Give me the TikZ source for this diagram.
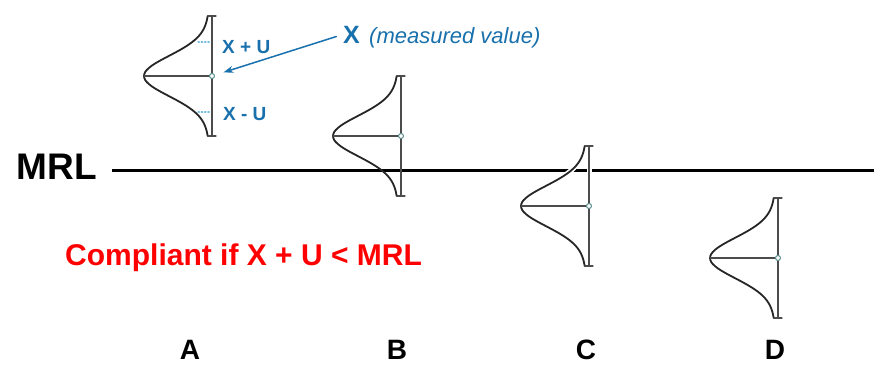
\documentclass[tikz,border=0pt]{standalone}
\usepackage{fontspec}
\setmainfont{Liberation Sans}
\usetikzlibrary{arrows.meta}
\definecolor{valblue}{RGB}{24,112,172}
\definecolor{dotblue}{RGB}{120,190,225}
\definecolor{meangray}{RGB}{90,140,140}
\tikzset{
    bell/.style={line width=1.8pt, black!85},
    axisline/.style={line width=1.1pt, black!70},
    halo/.style={preaction={draw=white, line width=5pt}},
    caselbl/.style={font=\bfseries\fontsize{28}{28}\selectfont, inner sep=0pt, anchor=base},
    bluetxt/.style={valblue, inner sep=0pt, anchor=base west},
}
\begin{document}
\begin{tikzpicture}[x=1pt, y=-1pt, >={Stealth[length=10pt, width=7pt]}, line join=round, line cap=round]
    \useasboundingbox (0,0) rectangle (874,365);
    \node[anchor=east, inner sep=0pt, font=\bfseries\fontsize{37}{37}\selectfont] (mrl) at (97,167) {MRL};
    \coordinate (mrlstart) at (112,170);
    \coordinate (mrlend) at (874,170);
    \draw[line width=3pt, line cap=butt] (mrlstart) -- (mrlend);
    \foreach \id/\xv/\m/\lx/\opt in {
        A/212/76/190/, 
        B/401/136/397/,
        C/589/206/586/halo,
        D/778/258/775/%
    } {
        \coordinate (\id-mean) at (\xv,\m);
        \coordinate (\id-top) at (\xv,\m-60);
        \coordinate (\id-bot) at (\xv,\m+60);
        \coordinate (\id-peak) at (\xv-68,\m);
        \draw[bell, \opt] plot[domain=-60:60, samples=61, smooth]
            ({\xv - 62*exp(-(\x*\x)/800) - 6*exp(-(\x*\x)/7200)}, {\m+\x});
        \draw[axisline, \opt] (\id-top) -- (\id-bot);
        \draw[axisline] ([xshift=-4pt]\id-top) -- ([xshift=4pt]\id-top);
        \draw[axisline] ([xshift=-4pt]\id-bot) -- ([xshift=4pt]\id-bot);
        \draw[axisline] (\id-peak) -- (\id-mean);
        \node[circle, draw=meangray, fill=white, line width=1pt, inner sep=0pt, minimum size=5pt] (\id-dot) at (\id-mean) {};
        \node[caselbl] (\id-lbl) at (\lx,359) {\id};
    }
    \draw[dotblue, dotted, line width=1.3pt] (198,42) -- (210,42);
    \draw[dotblue, dotted, line width=1.3pt] (198,112) -- (210,112);
    \node[bluetxt, font=\bfseries\fontsize{19}{19}\selectfont] (xplus) at (222,53) {X + U};
    \node[bluetxt, font=\bfseries\fontsize{19}{19}\selectfont] (xminus) at (223,120) {X - U};
    \node[bluetxt, font=\bfseries\fontsize{25}{25}\selectfont] (xval) at (343,43) {X};
    \node[bluetxt, font=\itshape\fontsize{22}{22}\selectfont] (xnote) at (369,43) {(measured value)};
    \draw[->, valblue, line width=1.5pt, shorten <=7pt, shorten >=9pt] (xval.west) -- (A-dot);
    \node[anchor=base west, inner sep=0pt, red, font=\bfseries\fontsize{30}{30}\selectfont] (rule) at (65,265) {Compliant if X + U < MRL};
\end{tikzpicture}
\end{document}
